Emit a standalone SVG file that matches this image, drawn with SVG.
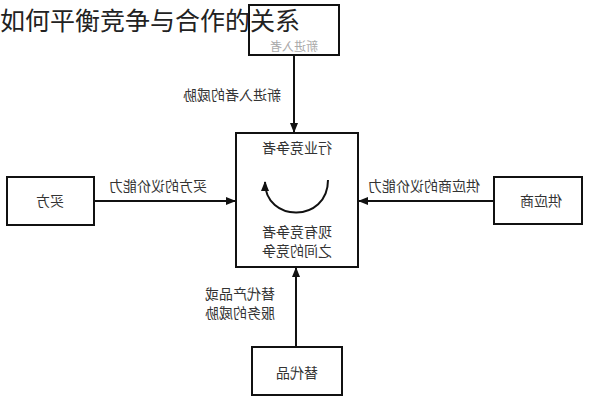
<svg xmlns="http://www.w3.org/2000/svg" width="591" height="400" viewBox="0 0 591 400">
<defs>
<style>
.box{fill:none;stroke:#111;stroke-width:2}
.ln{fill:none;stroke:#111;stroke-width:2}
.t{font-family:"Noto Sans CJK SC","Noto Sans",sans-serif;font-size:14px;fill:#333;text-anchor:middle}
.title{font-family:"Noto Sans CJK SC","Noto Sans",sans-serif;font-size:25px;fill:#222}
</style>
<marker id="ah" viewBox="0 0 10 10" refX="9" refY="5" markerWidth="5" markerHeight="5" orient="auto" markerUnits="strokeWidth">
<path d="M0,1 L10,5 L0,9 Z" fill="#111"/>
</marker>
</defs>
<rect width="591" height="400" fill="#fff"/>
<g id="connectors">
<line class="ln" x1="294" y1="55" x2="294" y2="132" marker-end="url(#ah)"/>
<line class="ln" x1="94" y1="201" x2="235" y2="201" marker-end="url(#ah)"/>
<line class="ln" x1="494" y1="201" x2="359" y2="201" marker-end="url(#ah)"/>
<line class="ln" x1="296" y1="347" x2="296" y2="268" marker-end="url(#ah)"/>
<text class="t" transform="scale(-1,1)" x="-232" y="100">新进入者的威胁</text>
<text class="t" transform="scale(-1,1)" x="-158" y="191">买方的议价能力</text>
<text class="t" transform="scale(-1,1)" x="-424" y="191">供应商的议价能力</text>
<text class="t" transform="scale(-1,1)" x="-240" y="299">替代产品或</text>
<text class="t" transform="scale(-1,1)" x="-240" y="318">服务的威胁</text>
</g>
<g id="new-entrants">
<rect class="box" x="249" y="5" width="90" height="50" stroke="#999" stroke-width="1.2"/>
<text class="t" transform="scale(-1,1)" x="-294" y="51" style="fill:#aaa;font-size:12px">新进入者</text>
</g>
<g id="rivals">
<rect class="box" x="236" y="133" width="122" height="134"/>
<text class="t" transform="scale(-1,1)" x="-297" y="153">行业竞争者</text>
<path class="ln" d="M328,180 C328,223 265,223 265,182" marker-end="url(#ah)"/>
<text class="t" transform="scale(-1,1)" x="-297" y="237">现有竞争者</text>
<text class="t" transform="scale(-1,1)" x="-297" y="256">之间的竞争</text>
</g>
<g id="buyers">
<rect class="box" x="7" y="177" width="87" height="48"/>
<text class="t" transform="scale(-1,1)" x="-50" y="206">买方</text>
</g>
<g id="suppliers">
<rect class="box" x="494" y="177" width="88" height="47"/>
<text class="t" transform="scale(-1,1)" x="-541" y="206">供应商</text>
</g>
<g id="substitutes">
<rect class="box" x="252" y="347" width="90" height="48"/>
<text class="t" transform="scale(-1,1)" x="-297" y="378">替代品</text>
</g>
<text class="title" x="0" y="29.5">如何平衡竞争与合作的关系</text>
</svg>
